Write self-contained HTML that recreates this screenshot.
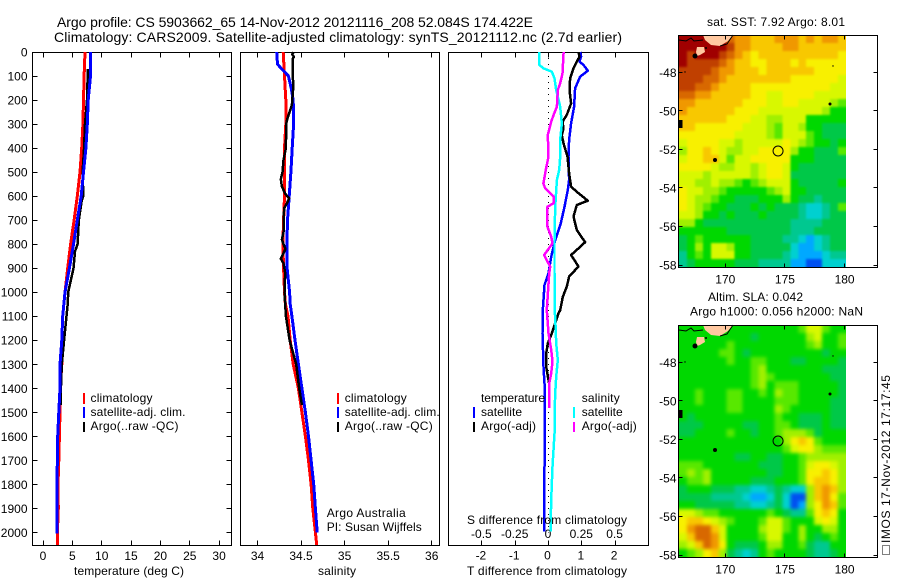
<!DOCTYPE html>
<html lang="en">
<head>
<meta charset="utf-8">
<title>Argo profile</title>
<style>
html,body{margin:0;padding:0;background:#fff;}
#chart{display:block;width:900px;height:580px;font-family:"Liberation Sans",sans-serif;font-size:12px;fill:#000;}
#chart text{fill:#000;}
.t{font-size:14px;}
</style>
</head>
<body>
<svg id="chart" xmlns="http://www.w3.org/2000/svg" width="900" height="580" viewBox="0 0 900 580">
  <defs>
    <filter id="soft-sst" x="-5%" y="-5%" width="110%" height="110%" color-interpolation-filters="sRGB">
      <feGaussianBlur stdDeviation="1.1"/>
      <feComponentTransfer><feFuncA type="linear" slope="4"/></feComponentTransfer>
    </filter>
    <filter id="soft-sla" x="-5%" y="-5%" width="110%" height="110%" color-interpolation-filters="sRGB">
      <feGaussianBlur stdDeviation="1.8"/>
      <feComponentTransfer><feFuncA type="linear" slope="4"/></feComponentTransfer>
    </filter>
    <clipPath id="clip-sst-map"><rect x="679" y="35" width="167" height="232"/></clipPath>
    <clipPath id="clip-sla-map"><rect x="679" y="325" width="167" height="232"/></clipPath>
  </defs>
  <rect x="0" y="0" width="900" height="580" fill="#fff"/>
  <text class="t" x="57" y="27" textLength="476">Argo profile: CS 5903662_65 14-Nov-2012 20121116_208 52.084S 174.422E</text>
  <text class="t" x="54" y="42" textLength="568">Climatology: CARS2009. Satellite-adjusted climatology: synTS_20121112.nc (2.7d earlier)</text>

  <g id="layer-maps"></g>
  <g id="layer-axes"></g>
  <g id="layer-series"></g>

  <text x="129" y="575" text-anchor="middle" textLength="110">temperature (deg C)</text>
  <text x="337" y="575" text-anchor="middle" textLength="38">salinity</text>
  <text x="547" y="575" text-anchor="middle" textLength="160">T difference from climatology</text>
  <text x="547" y="524" text-anchor="middle" textLength="160">S difference from climatology</text>

  <g>
    <rect x="83" y="393" width="2" height="11" fill="#f00"/>
    <rect x="83" y="407" width="2" height="11" fill="#00f"/>
    <rect x="83" y="422" width="2" height="10" fill="#000"/>
    <text x="90.5" y="402" textLength="62">climatology</text>
    <text x="90.5" y="416" textLength="95">satellite-adj. clim.</text>
    <text x="90.5" y="430" textLength="88">Argo(..raw -QC)</text>
  </g>
  <g>
    <rect x="337" y="393" width="2" height="11" fill="#f00"/>
    <rect x="337" y="407" width="2" height="11" fill="#00f"/>
    <rect x="337" y="422" width="2" height="10" fill="#000"/>
    <text x="344.7" y="402" textLength="62">climatology</text>
    <text x="344.7" y="416" textLength="95">satellite-adj. clim.</text>
    <text x="344.7" y="430" textLength="88">Argo(..raw -QC)</text>
    <text x="326.7" y="517" textLength="79">Argo Australia</text>
    <text x="326.7" y="531" textLength="95">PI: Susan Wijffels</text>
  </g>
  <g>
    <text x="481" y="402" textLength="64">temperature</text>
    <rect x="473" y="407" width="2" height="11" fill="#00f"/>
    <rect x="473" y="422" width="2" height="10" fill="#000"/>
    <text x="481" y="416" textLength="41">satellite</text>
    <text x="481" y="430" textLength="55">Argo(-adj)</text>
    <text x="581.7" y="402" textLength="38">salinity</text>
    <rect x="573" y="407" width="2" height="11" fill="#0ff"/>
    <rect x="573" y="422" width="2" height="10" fill="#f0f"/>
    <text x="581.7" y="416" textLength="41">satellite</text>
    <text x="581.7" y="430" textLength="55">Argo(-adj)</text>
  </g>

  <text x="707" y="26" textLength="138">sat. SST: 7.92 Argo: 8.01</text>
  <text x="708" y="301" textLength="95">Altim. SLA: 0.042</text>
  <text x="690" y="315.5" textLength="173">Argo h1000: 0.056 h2000: NaN</text>
  <rect x="882.5" y="545.5" width="7" height="9" fill="none" stroke="#000" stroke-dasharray="1 1"/>
  <text transform="translate(890,543) rotate(-90)" x="0" y="0" textLength="168">IMOS 17-Nov-2012 17:17:45</text>
</svg>
<script>
// ---- Temperature panel data (deg C) ----
const tempClimDepths = [0,100,300,400,500,600,700,800,900,1000,1100,1200,1300,1400,1500,1600,1700,1800,1900,2000,2052];
const tempClimValues = [7.16,7.0,6.8,6.6,6.3,5.85,5.3,4.7,4.2,3.75,3.35,3.2,3.2,2.95,2.9,2.8,2.7,2.55,2.6,2.45,2.45];
const tempSatDepths = [0,100,200,300,400,500,600,700,800,900,1000,1100,1200,1300,1400,1500,1600,1700,1800,1900,2005];
const tempSatValues = [8.1,8.1,7.7,7.55,7.3,6.9,6.5,5.85,5.2,4.5,3.75,3.35,3.2,2.9,2.9,2.7,2.5,2.45,2.35,2.35,2.35];
const tempArgoDepths = [70,200,300,400,500,600,620,700,800,830,900,1000,1050,1100,1200,1300,1400,1470];
const tempArgoValues = [7.65,7.5,7.15,7.0,6.75,6.87,6.6,6.1,5.9,5.45,5.2,4.3,4.2,4.0,3.6,3.2,3.05,3.0];
const tempTicks = [0,5,10,15,20,25,30];
const depthTicks = [0,100,200,300,400,500,600,700,800,900,1000,1100,1200,1300,1400,1500,1600,1700,1800,1900,2000];

// ---- Salinity panel data (psu) ----
const salClimDepths = [0,100,200,300,400,500,600,700,800,900,1000,1050,1100,1200,1300,1400,1500,1600,1700,1800,1900,2000,2052];
const salClimValues = [34.295,34.31,34.325,34.325,34.31,34.31,34.31,34.30,34.29,34.30,34.31,34.32,34.35,34.375,34.41,34.47,34.51,34.55,34.585,34.615,34.635,34.665,34.68];
const salSatDepths = [0,50,68,82,100,150,200,300,400,500,600,700,800,900,1000,1050,1100,1200,1300,1400,1500,1600,1700,1800,1900,2000];
const salSatValues = [34.22,34.23,34.27,34.31,34.355,34.387,34.41,34.414,34.398,34.383,34.364,34.345,34.337,34.34,34.368,34.375,34.395,34.43,34.47,34.51,34.55,34.585,34.615,34.645,34.665,34.685];
const salArgoDepths = [0,10,20,30,150,220,250,280,300,400,450,500,530,560,590,610,630,650,700,750,780,800,820,860,880,920,1000,1050,1100,1200,1300,1400,1470];
const salArgoValues = [34.414,34.398,34.418,34.402,34.41,34.395,34.368,34.341,34.33,34.326,34.299,34.287,34.268,34.28,34.318,34.364,34.337,34.307,34.299,34.299,34.28,34.299,34.322,34.268,34.299,34.318,34.31,34.318,34.326,34.368,34.444,34.479,34.51];
const salTicks = [34,34.5,35,35.5,36];

// ---- Difference panel data ----
const tDiffArgoDepths = [0,20,40,68,110,158,214,262,290,318,345,380,436,505,561,588,619,637,685,741,792,824,845,893,935,977,1019,1075,1088,1171,1213,1255,1310,1366,1377];
const tDiffArgoValues = [0.9,0.93,0.85,0.75,0.65,0.63,0.68,0.55,0.42,0.45,0.4,0.45,0.57,0.62,0.68,0.9,1.18,0.85,0.75,0.85,1.1,0.85,0.68,0.9,0.62,0.55,0.43,0.35,0.3,0.1,-0.02,-0.07,-0.07,0,0];
const tDiffSatDepths = [0,19,40,54,78,103,151,228,297,366,436,533,575,644,713,783,852,921,970,1074,1171,1310,1380,1449,1588,1726,1865,1997];
const tDiffSatValues = [0.95,0.98,0.93,1.05,1.18,0.95,0.8,0.77,0.68,0.62,0.6,0.62,0.58,0.48,0.37,0.2,0.08,0,-0.12,-0.17,-0.18,-0.15,-0.12,-0.12,-0.12,-0.12,-0.13,-0.12];
const sDiffSatDepths = [0,54,68,82,110,158,228,297,366,436,491,533,644,783,921,1074,1102,1213,1282,1352,1421,1518,1588,1726,1865,1997];
const sDiffSatValues = [-0.068,-0.068,-0.038,0.025,0.045,0.058,0.088,0.1,0.088,0.088,0.08,0.063,0.05,0.045,0.045,0.045,0.05,0.058,0.07,0.058,0.05,0.045,0.045,0.03,0.02,0.015];
const sDiffArgoDepths = [0,89,130,158,228,262,290,345,436,484,547,568,602,630,644,727,769,797,824,845,894,921,1074,1171,1240,1289,1338,1380,1483];
const sDiffArgoValues = [0.113,0.105,0.088,0.07,0.063,0.038,0.02,-0.005,0,-0.018,-0.038,-0.025,0.038,0.038,-0.008,-0.008,0.02,0.03,-0.005,-0.033,0.013,0.005,-0.013,0,0.02,0.03,0.02,0.005,0.005];
const tDiffTicks = [-2,-1,0,1,2];
const sDiffTicks = [-0.5,-0.25,0,0.25,0.5];
const sDiffTickLabels = ['-0.5','-0.25','0','0.25','0.5'];

// ---- Map data: colour level per cell, north to south ----
const lonTicks = [170,175,180];
const latTicks = [-48,-50,-52,-54,-56,-58];
const argoLon = 174.422;
const argoLat = -52.084;
const levelColors = ['#0000b0','#0050f0','#00a8ff','#00d0d0','#00c890','#00c848','#00d800','#58e800','#a0f000','#d8f800','#f8f000','#f8c800','#f09800','#d86800','#c04000','#a00000'];
const sstLevels = [
[15,15,15,15,15,15,13,12,12,11,11,11,12,12,12,11,12,11,12,12,11],
[15,15,15,15,15,15,14,12,12,11,11,11,11,12,12,11,11,11,11,11,11],
[15,14,15,15,15,14,13,12,11,10,11,11,11,11,11,11,11,11,11,11,10],
[15,14,14,14,14,13,12,11,11,10,10,11,11,11,10,11,10,10,10,10,10],
[14,14,14,14,13,12,12,11,11,11,10,11,11,11,11,11,11,10,10,10,10],
[14,14,14,13,13,12,11,11,11,11,11,11,11,11,10,10,10,10,10,10,9],
[14,14,13,13,12,11,11,11,11,10,10,10,10,10,10,10,10,10,10,9,9],
[13,13,12,12,11,11,11,11,11,10,10,9,9,10,10,10,10,9,9,9,9],
[12,12,11,11,11,11,11,11,10,10,10,9,9,10,10,9,9,9,9,8,7],
[12,11,11,11,11,11,11,10,10,10,9,9,9,9,9,9,9,9,8,6,6],
[11,11,11,11,11,11,10,10,10,9,9,8,8,9,9,9,6,6,6,6,6],
[11,11,10,10,10,10,10,10,9,9,9,8,7,9,9,8,6,6,5,5,5],
[10,10,10,10,10,10,10,9,9,9,9,8,7,9,9,9,7,6,5,5,5],
[9,10,10,10,10,9,9,8,9,9,9,9,9,10,9,8,7,6,6,5,6],
[8,10,10,11,10,9,8,8,9,9,10,10,10,10,8,6,6,5,5,5,7],
[9,10,10,11,11,9,7,9,9,10,10,10,10,10,6,6,6,5,5,5,5],
[10,10,10,10,9,8,8,9,9,8,9,10,10,9,6,5,5,5,5,5,5],
[9,9,9,8,9,9,9,9,9,8,9,10,10,9,5,5,5,5,5,5,5],
[9,9,8,8,9,8,8,7,6,7,8,9,9,9,6,5,5,5,5,5,6],
[10,9,9,8,8,7,6,6,6,6,6,7,8,9,6,6,5,5,5,5,5],
[10,9,8,8,7,6,6,5,5,5,6,6,6,8,6,5,5,4,5,5,5],
[10,9,8,7,6,6,5,5,5,6,5,6,5,5,5,4,3,3,4,5,7],
[9,9,8,6,6,5,6,5,5,5,6,5,5,5,5,4,3,3,4,5,5],
[8,8,6,5,5,5,5,5,5,5,5,5,5,5,4,4,4,4,5,5,5],
[6,6,6,6,6,6,5,5,5,5,5,5,5,5,4,4,4,5,5,5,5],
[5,6,7,6,6,6,6,6,6,5,5,5,5,4,4,3,2,3,4,5,5],
[5,6,8,6,9,9,8,6,6,5,5,5,5,5,3,2,2,3,4,5,5],
[4,6,7,6,9,9,9,6,6,5,5,5,5,4,3,2,2,2,3,4,4],
[4,5,6,6,6,6,6,5,5,5,4,4,4,4,2,2,1,1,3,3,3]
];
const slaLevels = [
[6,6,6,6,6,6,6,6,6,6,6,6,6,6,6,7,9,9,7,6,6],
[6,6,6,6,6,6,6,6,6,5,6,6,6,6,6,6,8,9,6,6,7],
[6,6,6,6,6,6,7,6,6,6,6,6,6,6,6,6,7,8,6,6,7],
[6,6,6,6,6,7,7,6,5,6,6,6,6,6,6,6,6,6,5,6,6],
[6,6,6,6,6,6,7,6,6,7,7,6,6,6,5,5,6,6,6,6,5],
[6,6,6,6,6,6,6,6,6,7,8,6,6,6,6,6,6,6,5,5,5],
[6,6,6,6,6,6,6,6,6,7,8,7,6,6,6,6,6,6,6,5,5],
[6,6,6,6,6,6,6,6,6,7,8,6,7,7,7,6,6,6,6,6,5],
[6,6,7,6,6,6,7,7,6,6,7,6,8,7,7,6,6,6,6,6,5],
[6,6,7,6,6,6,7,7,6,6,6,6,7,7,7,6,6,6,6,5,5],
[6,6,6,6,6,6,7,7,6,6,6,6,8,7,6,6,6,6,6,5,5],
[6,5,6,6,6,6,6,6,6,6,6,6,7,6,6,5,5,5,6,5,5],
[5,5,5,6,6,6,6,6,5,5,6,6,7,7,6,5,5,5,6,5,5],
[5,5,6,6,6,6,7,6,6,5,6,6,7,8,8,8,7,5,6,6,6],
[6,6,6,6,6,6,6,6,6,6,6,6,6,8,10,11,10,7,6,6,6],
[6,6,6,6,6,6,6,6,6,6,6,6,6,7,9,10,10,8,7,7,7],
[6,6,6,6,6,6,6,5,5,6,6,5,5,6,6,7,8,8,8,8,8],
[7,7,7,6,6,6,6,6,6,6,5,5,5,6,6,7,9,10,10,9,8],
[7,8,7,8,6,6,6,6,6,6,6,5,5,6,6,7,10,10,11,10,8],
[6,7,7,8,6,6,6,6,6,5,5,5,6,6,6,7,10,11,11,10,8],
[5,6,6,6,5,5,5,4,4,3,3,4,5,4,3,3,8,11,12,11,8],
[5,5,5,5,4,4,4,4,3,2,2,3,5,3,1,1,8,11,12,10,7],
[6,6,5,5,5,5,5,4,4,3,3,4,5,3,1,2,8,10,12,11,7],
[9,9,8,7,7,6,6,6,6,6,6,7,6,5,4,4,7,10,11,10,6],
[10,11,11,10,9,8,7,6,6,6,7,9,9,7,6,6,6,9,10,9,6],
[10,12,13,13,11,9,6,6,6,6,8,9,9,7,6,8,6,6,8,8,6],
[9,11,13,13,12,9,6,6,6,6,7,9,9,6,6,8,6,5,6,7,6],
[8,9,11,13,12,10,6,5,5,5,6,8,8,6,6,7,5,4,4,6,6],
[6,7,8,10,11,8,5,4,3,4,6,7,6,6,6,6,5,4,4,5,6]
];

const NS = 'http://www.w3.org/2000/svg';
const axesLayer = document.getElementById('layer-axes');
const seriesLayer = document.getElementById('layer-series');
const mapsLayer = document.getElementById('layer-maps');

function yDepth(d){ return 52 + d * 0.2402; }
function xTemp(v){ return 43 + v * 5.87; }
function xSal(v){ return 257.5 + (v - 34) * 87.1; }
function xTDiff(v){ return 548.5 + v * 33.3; }
function xSDiff(v){ return 548.5 + v * 133.2; }
function xLon(v){ return 725.3 + (v - 170) * 11.93; }
function yLatTop(v){ return 72.3 + (-48 - v) * 19.27; }
function yLatBottom(v){ return 362.3 + (-48 - v) * 19.27; }

function make(tag, parent, attrs){
  const el = document.createElementNS(NS, tag);
  for (const k in attrs) el.setAttribute(k, attrs[k]);
  parent.appendChild(el);
  return el;
}
function snap(v){ return Math.round(v - 0.5) + 0.5; }

function drawFrame(name, x0, x1, y0, y1, xTickPos, yTickPos, len){
  const box = make('rect', axesLayer, {x:x0, y:y0, width:x1-x0, height:y1-y0, fill:'none', stroke:'#000', 'stroke-width':1, 'shape-rendering':'crispEdges'});
  
  
  xTickPos.forEach(function(p){
    const a = make('line', axesLayer, {x1:snap(p), x2:snap(p), y1:y0, y2:y0+len, stroke:'#000', 'shape-rendering':'crispEdges'});
    
    
    const b = make('line', axesLayer, {x1:snap(p), x2:snap(p), y1:y1-len, y2:y1, stroke:'#000', 'shape-rendering':'crispEdges'});
    
    
  });
  yTickPos.forEach(function(p){
    const a = make('line', axesLayer, {x1:x0, x2:x0+len, y1:snap(p), y2:snap(p), stroke:'#000', 'shape-rendering':'crispEdges'});
    
    
    const b = make('line', axesLayer, {x1:x1-len, x2:x1, y1:snap(p), y2:snap(p), stroke:'#000', 'shape-rendering':'crispEdges'});
    
    
  });
}
function tickLabel(name, x, y, str, anchor){
  const t = make('text', axesLayer, {x:x, y:y, 'text-anchor':anchor});
  t.textContent = str;
  
  
}
function drawSeries(name, depths, values, xFn, color, width){
  const pts = depths.map(function(d, i){ return xFn(values[i]).toFixed(1) + ',' + yDepth(d).toFixed(1); }).join(' ');
  const line = make('polyline', seriesLayer, {points:pts, fill:'none', stroke:color, 'stroke-width':width, 'shape-rendering':'crispEdges', 'stroke-linejoin':'round'});
  
  
}

// Frames and tick labels
drawFrame('temperature-axes', 32.5, 231.5, 52.5, 545.5, tempTicks.map(xTemp), depthTicks.slice(1).map(yDepth), 5);
drawFrame('salinity-axes', 240.5, 439.5, 52.5, 545.5, salTicks.map(xSal), [], 5);
drawFrame('difference-axes', 448.5, 648.5, 52.5, 545.5, tDiffTicks.map(xTDiff), [], 5);
depthTicks.forEach(function(d){
  tickLabel('depth-tick-label', 27.5, yDepth(d) + 4.5, String(d), 'end');
});
tempTicks.forEach(function(v){
  tickLabel('temperature-tick-label', xTemp(v), 560, String(v), 'middle');
});
salTicks.forEach(function(v){
  tickLabel('salinity-tick-label', xSal(v), 560, String(v), 'middle');
});
tDiffTicks.forEach(function(v){
  tickLabel('t-difference-tick-label', xTDiff(v) - 1, 559.5, String(v), 'middle');
});
sDiffTicks.forEach(function(v, i){
  tickLabel('s-difference-tick-label', xSDiff(v) - 0.5, 538, sDiffTickLabels[i], 'middle');
});

// Zero reference
const zeroLine = make('line', seriesLayer, {x1:xTDiff(0), x2:xTDiff(0), y1:yDepth(0), y2:yDepth(2000), stroke:'#000', 'stroke-width':1, 'stroke-dasharray':'1 5', 'shape-rendering':'crispEdges'});



// Series
drawSeries('temperature-climatology-line', tempClimDepths, tempClimValues, xTemp, '#f00', 3);
drawSeries('temperature-argo-line', tempArgoDepths, tempArgoValues, xTemp, '#000', 2.5);
drawSeries('temperature-satellite-line', tempSatDepths, tempSatValues, xTemp, '#00f', 3);
drawSeries('salinity-climatology-line', salClimDepths, salClimValues, xSal, '#f00', 3);
drawSeries('salinity-satellite-line', salSatDepths, salSatValues, xSal, '#00f', 3);
drawSeries('salinity-argo-line', salArgoDepths, salArgoValues, xSal, '#000', 2.5);
drawSeries('t-difference-satellite-line', tDiffSatDepths, tDiffSatValues, xTDiff, '#00f', 2.5);
drawSeries('t-difference-argo-line', tDiffArgoDepths, tDiffArgoValues, xTDiff, '#000', 2.5);
drawSeries('s-difference-satellite-line', sDiffSatDepths, sDiffSatValues, xSDiff, '#0ff', 2.5);
drawSeries('s-difference-argo-line', sDiffArgoDepths, sDiffArgoValues, xSDiff, '#f0f', 2.5);

// Maps
function drawMap(name, levels, top, yLat, filterId){
  const left = 679, w = 167, h = 232;
  const cw = w / levels[0].length, ch = h / levels.length;
  const clip = make('g', mapsLayer, {'clip-path':'url(#clip-' + name + ')'});
  
  
  const field = make('g', clip, {filter:'url(#' + filterId + ')'});
  
  
  levels.forEach(function(row, r){
    row.forEach(function(level, c){
      const cell = make('rect', field, {x:(left + c*cw).toFixed(2), y:(top + r*ch).toFixed(2), width:(cw+0.4).toFixed(2), height:(ch+0.4).toFixed(2), fill:levelColors[level], 'shape-rendering':'crispEdges'});
      
      
    });
  });
  const land = make('polygon', mapsLayer, {points:[[24,0],[54,0],[49,6],[41,11],[32,10],[26,5]].map(function(p){ return (left+p[0]) + ',' + (top+p[1]); }).join(' '), fill:'#ffc8a0', stroke:'none'});
  
  
  const island = make('polygon', mapsLayer, {points:[[18,12],[25,12],[26,17],[21,20],[18,21],[17,17]].map(function(p){ return (left+p[0]) + ',' + (top+p[1]); }).join(' '), fill:'#ffc8a0', stroke:'none'});
  
  
  const coast = make('polyline', mapsLayer, {points:[[0,5],[7,6],[12,3],[15,6],[24,5]].map(function(p){ return (left+p[0]) + ',' + (top+p[1]); }).join(' '), fill:'none', stroke:'#000', 'stroke-width':1});
  
  
  const coast2 = make('polyline', mapsLayer, {points:[[54,0],[48,9],[41,11]].map(function(p){ return (left+p[0]) + ',' + (top+p[1]); }).join(' '), fill:'none', stroke:'#000', 'stroke-width':1});
  
  
  [[16,21,2.5],[36,125,2],[151,69,1.5],[154,31,0.7],[6,37,0.7],[27,13,1]].forEach(function(d){
    const dot = make('circle', mapsLayer, {cx:left+d[0], cy:top+d[1], r:d[2], fill:'#000'});
    
    
  });
  const blob = make('rect', mapsLayer, {x:left, y:top+85, width:3.5, height:8, fill:'#000'});
  
  
  const marker = make('circle', mapsLayer, {cx:xLon(argoLon), cy:yLat(argoLat), r:5, fill:'none', stroke:'#000', 'stroke-width':1});
  
  
  drawFrame(name + '-axes', 678.5, 877.5, top + 0.5, top + 232.5, lonTicks.map(xLon), latTicks.map(yLat), 4);
  lonTicks.forEach(function(v){
    tickLabel(name + '-longitude-tick-label', xLon(v), top + 248.5, String(v), 'middle');
  });
  latTicks.forEach(function(v){
    tickLabel(name + '-latitude-tick-label', 676.5, yLat(v) + 4.5, String(v), 'end');
  });
}
drawMap('sst-map', sstLevels, 35, yLatTop, 'soft-sst');
drawMap('sla-map', slaLevels, 325, yLatBottom, 'soft-sla');
</script>
</body>
</html>
